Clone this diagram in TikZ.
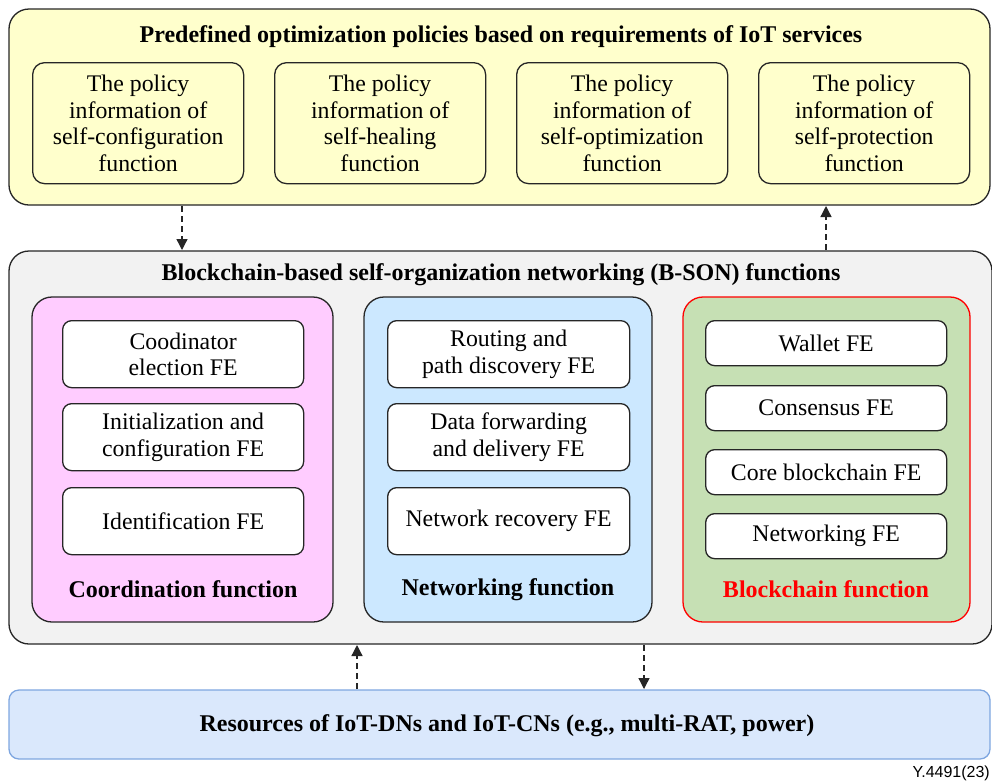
\documentclass[tikz,border=0pt]{standalone}
\usepackage{fontspec}
\setmainfont{Liberation Serif}
\newfontfamily\labelfont{Liberation Sans}
\usetikzlibrary{arrows.meta,positioning}
\definecolor{polyellow}{HTML}{FFFFCC}
\definecolor{bsongrey}{HTML}{F2F2F2}
\definecolor{coordpink}{HTML}{FFCCFF}
\definecolor{netblue}{HTML}{CCE8FF}
\definecolor{chaingreen}{HTML}{C6E0B4}
\definecolor{resblue}{HTML}{DAE8FC}
\definecolor{resedge}{HTML}{7EA6E0}
\definecolor{chainred}{HTML}{FF0000}
\begin{document}
\begin{tikzpicture}[x=1pt,y=-1pt,
  outerbox/.style={draw=black!85,line width=1.3pt,rounded corners=20pt},
  groupbox/.style={draw=black!85,line width=1.3pt,rounded corners=20pt},
  febox/.style={draw=black!85,line width=1.3pt,rounded corners=9pt,fill=white},
  polbox/.style={draw=black!85,line width=1.3pt,rounded corners=12pt,fill=polyellow},
  txt/.style={font=\fontsize{23.8}{26.5}\selectfont,align=center},
  ttl/.style={font=\fontsize{24}{26}\selectfont\bfseries,align=center},
  flow/.style={draw=black!85,line width=1.3pt,dash pattern=on 6pt off 4pt,-{Triangle[length=11pt,width=11pt]}}
]
\useasboundingbox (0,0) rectangle (992,782);

% policy layer
\draw[outerbox,fill=polyellow] (9,9) rectangle (990,205);
\node[ttl] (poltitle) at (501,37) {Predefined optimization policies based on requirements of IoT services};
\node[polbox,txt,minimum width=211pt,minimum height=121pt,anchor=north west] (p1) at (32,62) {The policy\\information of\\self-configuration\\function};
\node[polbox,txt,minimum width=211pt,minimum height=121pt,anchor=north west] (p2) at (274,62) {The policy\\information of\\self-healing\\function};
\node[polbox,txt,minimum width=211pt,minimum height=121pt,anchor=north west] (p3) at (516,62) {The policy\\information of\\self-optimization\\function};
\node[polbox,txt,minimum width=211pt,minimum height=121pt,anchor=north west] (p4) at (758,62) {The policy\\information of\\self-protection\\function};

% B-SON layer
\draw[outerbox,fill=bsongrey] (9,251) rectangle (992,644);
\node[ttl] (bsontitle) at (501,275) {Blockchain-based self-organization networking (B-SON) functions};

% coordination function
\draw[groupbox,fill=coordpink] (32,297) rectangle (333,622);
\node[febox,txt,minimum width=241pt,minimum height=67pt,anchor=north west] (c1) at (62,320) {Coodinator\\election FE};
\node[febox,txt,minimum width=241pt,minimum height=67pt,anchor=north west] (c2) at (62,403) {Initialization and\\configuration FE};
\node[febox,txt,minimum width=241pt,minimum height=67pt,anchor=north west] (c3) at (62,487) {Identification FE};
\node[ttl] (clabel) at (183,589) {Coordination function};

% networking function
\draw[groupbox,fill=netblue] (364,297) rectangle (652,622);
\node[febox,txt,minimum width=242pt,minimum height=67pt,anchor=north west] (n1) at (387,320) {Routing and\\path discovery FE};
\node[febox,txt,minimum width=242pt,minimum height=67pt,anchor=north west] (n2) at (387,403) {Data forwarding\\and delivery FE};
\node[febox,txt,minimum width=242pt,minimum height=67pt,anchor=north west] (n3) at (387,487) {Network recovery FE};
\node[ttl] (nlabel) at (508,590) {Networking function};

% blockchain function
\draw[groupbox,draw=chainred,fill=chaingreen] (683,297) rectangle (970,622);
\node[febox,txt,minimum width=241pt,minimum height=45pt,anchor=north west] (b1) at (705,320) {Wallet FE};
\node[febox,txt,minimum width=241pt,minimum height=45pt,anchor=north west] (b2) at (705,385) {Consensus FE};
\node[febox,txt,minimum width=241pt,minimum height=45pt,anchor=north west] (b3) at (705,449) {Core blockchain FE};
\node[febox,txt,minimum width=241pt,minimum height=45pt,anchor=north west] (b4) at (705,513) {Networking FE};
\node[ttl,text=chainred] (blabel) at (826,589) {Blockchain function};

% resources layer
\draw[draw=resedge,line width=1.3pt,rounded corners=10pt,fill=resblue] (9,690) rectangle (990,759);
\node[ttl] (restitle) at (507,726) {Resources of IoT-DNs and IoT-CNs (e.g., multi-RAT, power)};

% interactions between layers
\coordinate (a1s) at (182,206);
\coordinate (a1e) at (182,250);
\coordinate (a2s) at (826,250);
\coordinate (a2e) at (826,206);
\coordinate (a3s) at (357,689);
\coordinate (a3e) at (357,645);
\coordinate (a4s) at (644,645);
\coordinate (a4e) at (644,689);
\draw[flow] (a1s) -- (a1e);
\draw[flow] (a2s) -- (a2e);
\draw[flow] (a3s) -- (a3e);
\draw[flow] (a4s) -- (a4e);

\node[font=\labelfont\fontsize{16}{18}\selectfont,anchor=east,inner sep=0pt] (figid) at (990,773) {Y.4491(23)};
\end{tikzpicture}
\end{document}
